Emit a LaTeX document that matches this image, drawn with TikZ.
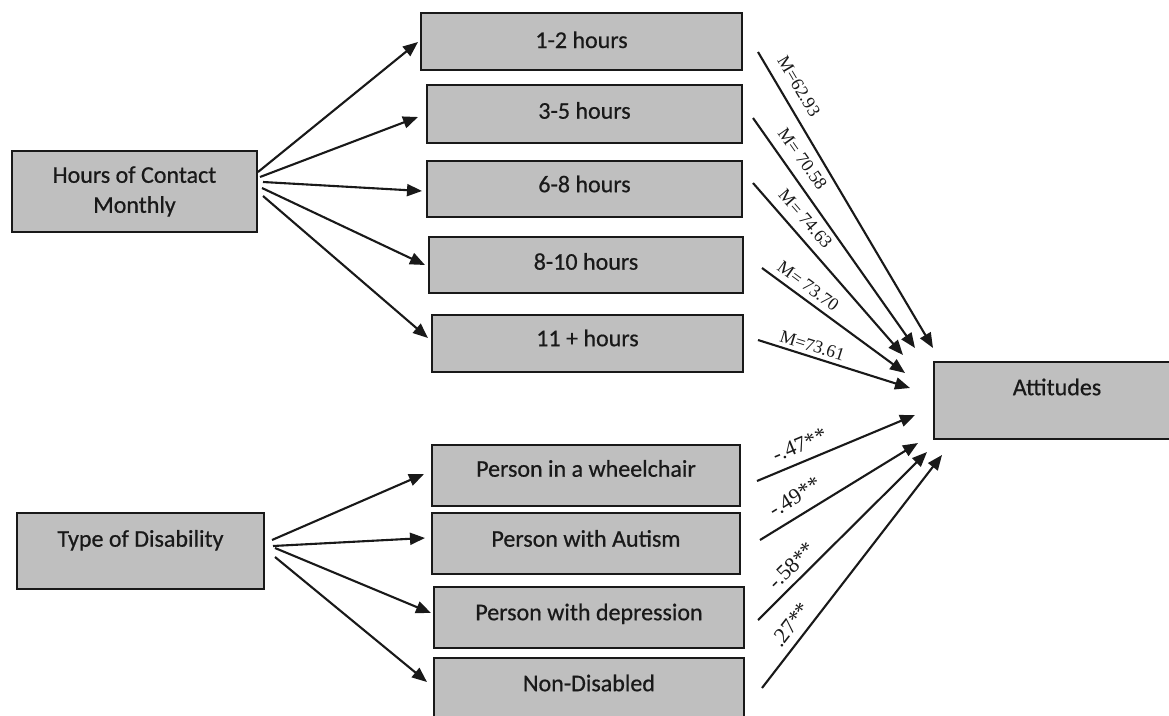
\documentclass[tikz,border=0pt]{standalone}
\usepackage{fontspec}
\setmainfont{Liberation Serif}
\newfontfamily\boxfont{Carlito}[FakeBold=0.6]
\usetikzlibrary{arrows.meta}
\definecolor{boxgray}{RGB}{191,191,191}
\definecolor{ink}{RGB}{25,25,25}
\begin{document}
\begin{tikzpicture}[x=1pt,y=-1pt,
  box/.style={draw=ink, fill=boxgray, line width=2.2pt, inner sep=0pt,
    font=\boxfont\fontsize{24}{32}\selectfont, text=ink,
    text height=17pt, text depth=10pt},
  arr/.style={draw=ink, line width=2.1pt, -{Triangle[length=15pt,width=12pt]}},
  mlab/.style={font=\fontsize{18}{20}\selectfont, text=ink, inner sep=0pt, sloped},
  blab/.style={font=\fontsize{22}{24}\selectfont, text=ink, inner sep=0pt, sloped}]
\useasboundingbox (0,0) rectangle (1169,715);
\clip (0,0) rectangle (1169,715);

% left boxes
\node[box, minimum width=245pt, minimum height=81pt, align=center,
      text height=, text depth=] (hours) at (134.5,191.5) {Hours of Contact\\[-2pt]Monthly};
\node[box, minimum width=247pt, minimum height=76pt, text depth=25.6pt] (type) at (140.5,551) {Type of Disability};

% middle boxes
\node[box, minimum width=321pt, minimum height=57pt, text depth=4pt] (h12) at (581.5,41.5) {1-2 hours};
\node[box, minimum width=315pt, minimum height=58pt, text depth=7.6pt] (h35) at (584.5,114) {3-5 hours};
\node[box, minimum width=315pt, minimum height=56pt, text depth=10.6pt] (h68) at (584.5,189) {6-8 hours};
\node[box, minimum width=314pt, minimum height=56pt, text depth=7.6pt] (h810) at (586,265) {8-10 hours};
\node[box, minimum width=311pt, minimum height=57pt, text depth=11.6pt] (h11) at (587.5,343.5) {11 + hours};
\node[box, minimum width=308pt, minimum height=61pt, text depth=14.6pt] (wheel) at (586,475.5) {Person in a wheelchair};
\node[box, minimum width=308pt, minimum height=61pt, text depth=10.6pt] (autism) at (586,543.5) {Person with Autism};
\node[box, minimum width=310pt, minimum height=61pt, text depth=11.6pt] (depr) at (589,617.5) {Person with depression};
\node[box, minimum width=310pt, minimum height=62pt, text depth=12.6pt] (nondis) at (589,689) {Non-Disabled};

% outcome
\node[box, minimum width=246pt, minimum height=77pt, text depth=27.6pt] (att) at (1057,400.5) {Attitudes};

% arrow end points (left fan)
\coordinate (hs1) at (258,172); \coordinate (he1) at (418,42);
\coordinate (hs2) at (260,177); \coordinate (he2) at (418,117);
\coordinate (hs3) at (263,182); \coordinate (he3) at (422,191);
\coordinate (hs4) at (262,188); \coordinate (he4) at (425,265);
\coordinate (hs5) at (263,196); \coordinate (he5) at (428,338);
\coordinate (ts1) at (272,540); \coordinate (te1) at (424,474);
\coordinate (ts2) at (273,546); \coordinate (te2) at (425,538);
\coordinate (ts3) at (275,548); \coordinate (te3) at (431,613);
\coordinate (ts4) at (275,557); \coordinate (te4) at (427,682);

\draw[arr] (hs1) -- (he1);
\draw[arr] (hs2) -- (he2);
\draw[arr] (hs3) -- (he3);
\draw[arr] (hs4) -- (he4);
\draw[arr] (hs5) -- (he5);
\draw[arr] (ts1) -- (te1);
\draw[arr] (ts2) -- (te2);
\draw[arr] (ts3) -- (te3);
\draw[arr] (ts4) -- (te4);

% arrows into Attitudes
\coordinate (ms1) at (758,52);  \coordinate (me1) at (933,348);
\coordinate (ms2) at (753,118); \coordinate (me2) at (915,348);
\coordinate (ms3) at (753,183); \coordinate (me3) at (903,355);
\coordinate (ms4) at (762,268); \coordinate (me4) at (905,373);
\coordinate (ms5) at (758,340); \coordinate (me5) at (910,388);
\coordinate (bs1) at (757,481); \coordinate (be1) at (915,415);
\coordinate (bs2) at (760,540); \coordinate (be2) at (918,443);
\coordinate (bs3) at (758,620); \coordinate (be3) at (927,452);
\coordinate (bs4) at (762,688); \coordinate (be4) at (942,455);

\draw[arr] (ms1) -- node[mlab, pos=0.147, above=10.5pt] {M=62.93} (me1);
\draw[arr] (ms2) -- node[mlab, pos=0.22, above=9.8pt] {M= 70.58} (me2);
\draw[arr] (ms3) -- node[mlab, pos=0.27, above=8.8pt] {M= 74.63} (me3);
\draw[arr] (ms4) -- node[mlab, pos=0.27, above=5.8pt] {M= 73.70} (me4);
\draw[arr] (ms5) -- node[mlab, pos=0.336, above=3.7pt] {M=73.61} (me5);
\draw[arr] (bs1) -- node[blab, pos=0.31, above=8.3pt] {-.47**} (be1);
\draw[arr] (bs2) -- node[blab, pos=0.28, above=10.1pt] {-.49**} (be2);
\draw[arr] (bs3) -- node[blab, pos=0.26, above=6.2pt] {-.58**} (be3);
\draw[arr] (bs4) -- node[blab, pos=0.23, above=7.4pt] {.27**} (be4);
\end{tikzpicture}
\end{document}
